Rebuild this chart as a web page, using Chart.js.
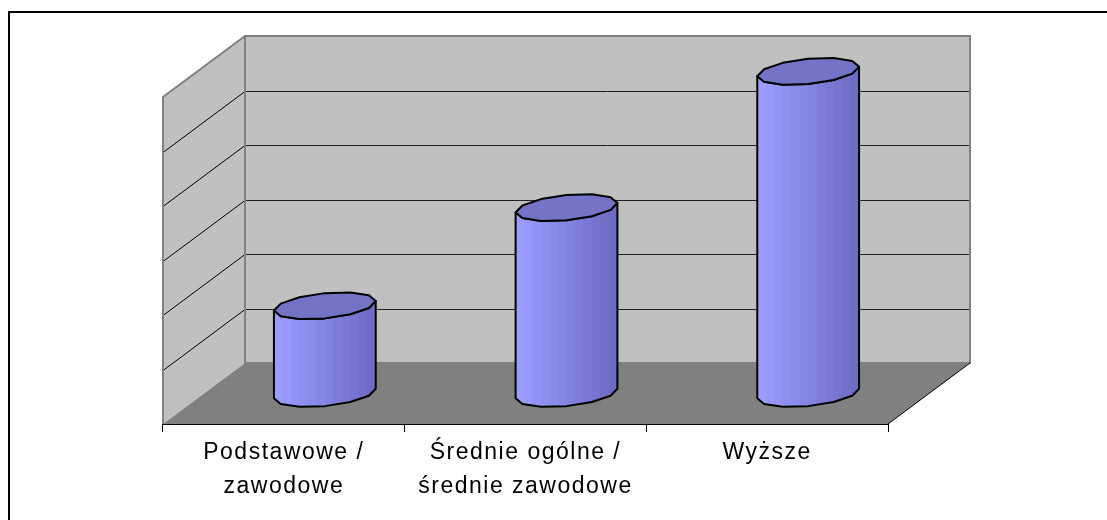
<!DOCTYPE html>
<html>
<head>
<meta charset="utf-8">
<script src="https://cdn.jsdelivr.net/npm/chart.js@4.4.1/dist/chart.umd.min.js"></script>
<style>
  html, body { margin: 0; padding: 0; background: #fff; overflow: hidden; }
  #frame {
    position: absolute; left: 8px; top: 11px; width: 1200px; height: 600px;
    border-top: 2px solid #000; border-left: 2px solid #000;
  }
  #chart { position: absolute; left: 0; top: 0; }
</style>
</head>
<body>
<div id="frame"></div>
<canvas id="chart" width="1107" height="520"></canvas>
<script>
// data
const categories = [
    ["Podstawowe /", "zawodowe"],
    ["Średnie ogólne /", "średnie zawodowe"],
    ["Wyższe"]
];
const values = [16.1, 34.1, 59.1];
const yMin = 0;
const yMax = 60;
const yStep = 10;

// 3D look: offset from the front plane to the back wall
const DX = 82;
const DY = -61;


// WALLS, FLOOR, GRIDLINES

const walls3d = {
    id: "walls3d",
    beforeDraw(chart) {
        chart.ctx.letterSpacing = "1.5px";
    },
    beforeDatasetsDraw(chart) {
        const { ctx, chartArea: a, scales } = chart;
        const L = a.left, R = a.right, T = a.top, B = a.bottom;

        ctx.save();
        ctx.letterSpacing = "0px";

        // back wall
        ctx.fillStyle = "#c0c0c0";
        ctx.fillRect(L + DX, T + DY, R - L, B - T);

        // left wall
        ctx.beginPath();
        ctx.moveTo(L, B);
        ctx.lineTo(L, T);
        ctx.lineTo(L + DX, T + DY);
        ctx.lineTo(L + DX, B + DY);
        ctx.closePath();
        ctx.fill();

        // floor
        ctx.fillStyle = "#808080";
        ctx.beginPath();
        ctx.moveTo(L, B);
        ctx.lineTo(R, B);
        ctx.lineTo(R + DX, B + DY);
        ctx.lineTo(L + DX, B + DY);
        ctx.closePath();
        ctx.fill();

        // gridlines from the y scale ticks
        const y = scales.y;
        ctx.lineWidth = 1;
        y.ticks.forEach(t => {
            if (t.value <= yMin || t.value >= yMax) return;
            const py = Math.round(y.getPixelForValue(t.value)) + 0.5;
            ctx.strokeStyle = "#202020";
            ctx.beginPath();
            ctx.moveTo(L + DX, py + DY);
            ctx.lineTo(R + DX, py + DY);
            ctx.stroke();
            ctx.strokeStyle = "#000";
            ctx.beginPath();
            ctx.moveTo(L, py);
            ctx.lineTo(L + DX, py + DY);
            ctx.stroke();
        });

        // wall outlines
        ctx.strokeStyle = "#808080";
        ctx.lineWidth = 2;
        ctx.strokeRect(L + DX, T + DY, R - L, B - T);
        ctx.beginPath();
        ctx.moveTo(L, B);
        ctx.lineTo(L, T);
        ctx.lineTo(L + DX, T + DY);
        ctx.stroke();

        // floor right edge
        ctx.strokeStyle = "#000";
        ctx.lineWidth = 1;
        ctx.beginPath();
        ctx.moveTo(R, B);
        ctx.lineTo(R + DX, B + DY);
        ctx.stroke();

        ctx.restore();
    },
    afterDatasetsDraw(chart) {
        const { ctx, chartArea: a, scales } = chart;
        const x = scales.x, y = scales.y;
        const catW = (a.right - a.left) / categories.length;

        ctx.save();
        ctx.letterSpacing = "0px";
        values.forEach((v, i) => {
            const cx = x.getPixelForValue(i) + DX / 2;
            const yTop = y.getPixelForValue(v) + DY / 2;
            const yBot = y.getPixelForValue(yMin) + DY / 2;
            drawCylinder(ctx, cx, yTop, yBot, catW * 0.197, 18, 13.5);
        });
        ctx.restore();
    },
    afterDraw(chart) {
        chart.ctx.letterSpacing = "0px";
    }
};


// CYLINDER

function drawCylinder(ctx, cx, yTop, yBot, ra, rb, rc) {
    const t0 = Math.atan2(rb, ra);
    const half = 6;
    const pt = (yc, t) => [cx + ra * Math.cos(t) + rb * Math.sin(t), yc - rc * Math.sin(t)];
    const w = Math.sqrt(ra * ra + rb * rb);

    // side
    const grad = ctx.createLinearGradient(cx - w, 0, cx + w, 0);
    const c0 = [156, 156, 255], c1 = [108, 108, 196];
    const facets = 12;
    for (let k = 0; k < facets; k++) {
        const f = k / (facets - 1);
        const col = c0.map((c, j) => Math.round(c + (c1[j] - c) * f));
        const s = `rgb(${col[0]},${col[1]},${col[2]})`;
        grad.addColorStop(k / facets, s);
        grad.addColorStop((k + 1) / facets - 0.001, s);
    }

    ctx.beginPath();
    for (let k = 0; k <= half; k++) {
        const [px, py] = pt(yBot, t0 + Math.PI + Math.PI * k / half);
        k ? ctx.lineTo(px, py) : ctx.moveTo(px, py);
    }
    for (let k = half; k >= 0; k--) {
        const [px, py] = pt(yTop, t0 + Math.PI + Math.PI * k / half);
        ctx.lineTo(px, py);
    }
    ctx.closePath();
    ctx.fillStyle = grad;
    ctx.fill();
    ctx.strokeStyle = "#000";
    ctx.lineWidth = 2;
    ctx.lineJoin = "round";
    ctx.stroke();

    // top
    ctx.beginPath();
    for (let k = 0; k < half * 2; k++) {
        const [px, py] = pt(yTop, t0 + Math.PI * k / half);
        k ? ctx.lineTo(px, py) : ctx.moveTo(px, py);
    }
    ctx.closePath();
    ctx.fillStyle = "#7474c6";
    ctx.fill();
    ctx.stroke();
}


// CHART

const ctx = document.getElementById("chart").getContext("2d");

new Chart(ctx, {
    type: "bar",
    data: {
        labels: categories,
        datasets: [{
            data: values,
            backgroundColor: "rgba(0,0,0,0)",
            borderWidth: 0
        }]
    },
    options: {
        responsive: false,
        animation: false,
        layout: { padding: { left: 163, right: 219, top: 97, bottom: 0 } },
        plugins: { legend: { display: false }, tooltip: { enabled: false } },
        scales: {
            x: {
                type: "category",
                grid: {
                    offset: true,
                    drawOnChartArea: false,
                    drawTicks: true,
                    tickLength: 8,
                    color: "#000",
                    lineWidth: 1
                },
                border: { display: true, color: "#000", width: 2 },
                ticks: {
                    color: "#000",
                    padding: 3,
                    maxRotation: 0,
                    autoSkip: false,
                    font: { family: "'Liberation Sans', Arial, sans-serif", size: 23, lineHeight: 1.5 }
                },
                afterFit(scale) { scale.height = 96; }
            },
            y: {
                display: false,
                min: yMin,
                max: yMax,
                ticks: { stepSize: yStep }
            }
        }
    },
    plugins: [walls3d]
});
</script>
</body>
</html>
